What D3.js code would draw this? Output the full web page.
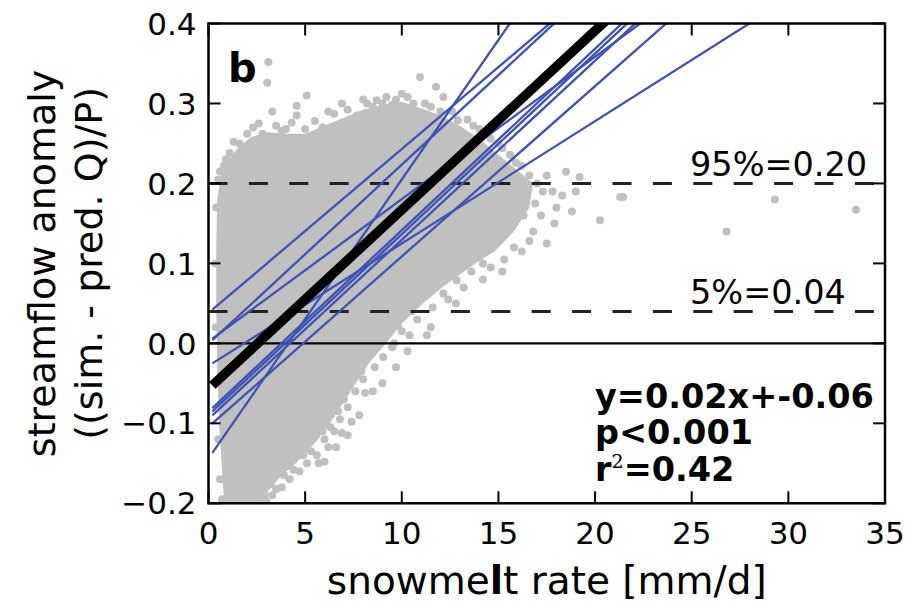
<!DOCTYPE html>
<html>
<head>
<meta charset="utf-8">
<script src="https://cdn.jsdelivr.net/npm/d3@7"></script>
<style>
  html, body { margin: 0; padding: 0; background: #fff; }
  svg { display: block; }
  text { font-family: "DejaVu Sans", sans-serif; }
</style>
</head>
<body>
<svg id="chart" width="906" height="603"></svg>
<script>
// ---------------- data ----------------
const xTicks = [0, 5, 10, 15, 20, 25, 30, 35];
const yTicks = [-0.2, -0.1, 0.0, 0.1, 0.2, 0.3, 0.4];
const xDomain = [0, 35];
const yDomain = [-0.2, 0.4];

// outline of the dense part of the scatter cloud (snowmelt, anomaly)
const cloudOutline = [
  [0.9, -0.23], [0.7, -0.16], [0.55, -0.1], [0.45, -0.03], [0.4, 0.05],
  [0.4, 0.12], [0.45, 0.18], [0.65, 0.21], [1.0, 0.228], [1.5, 0.244],
  [2.2, 0.258], [3.0, 0.264], [4.0, 0.262], [5.0, 0.262], [6.0, 0.272],
  [7.0, 0.282], [8.0, 0.292], [9.0, 0.298], [10.0, 0.302], [11.0, 0.294],
  [12.0, 0.285], [13.0, 0.272], [14.0, 0.256], [15.0, 0.236], [16.0, 0.216],
  [16.8, 0.2], [16.6, 0.17], [15.8, 0.14], [14.8, 0.115], [13.8, 0.1],
  [12.2, 0.072], [11.0, 0.048], [10.0, 0.025], [9.2, 0.0], [8.3, -0.025],
  [7.4, -0.058], [6.5, -0.092], [5.6, -0.122], [4.6, -0.148], [3.6, -0.17],
  [2.9, -0.19], [2.6, -0.23]
];

// individual points around the edge of the cloud
const scatterPoints = [
  [3.1, 0.352], [3.04, 0.326], [5.08, 0.31], [4.56, 0.297], [4.56, 0.285],
  [10.94, 0.333], [11.77, 0.321], [12.15, 0.308], [1.1, 0.238], [1.6, 0.25],
  [2.0, 0.262], [2.6, 0.275], [2.3, 0.27], [3.5, 0.272], [4.0, 0.268],
  [5.5, 0.278], [6.5, 0.287], [7.2, 0.292], [8.2, 0.3], [8.7, 0.304],
  [9.2, 0.308], [9.7, 0.305], [10.3, 0.308], [11.2, 0.3], [12.6, 0.29],
  [13.4, 0.28], [14.0, 0.268], [14.6, 0.256], [15.2, 0.244], [15.9, 0.226],
  [0.8, 0.222], [0.5, 0.205],
  [18.5, 0.2145], [19.2, 0.208], [20.25, 0.154], [21.3, 0.183], [21.45, 0.183],
  [26.8, 0.14], [29.3, 0.18], [33.5, 0.167], [17.5, 0.21], [17.8, 0.19],
  [18.0, 0.17], [17.2, 0.16], [18.3, 0.185], [16.8, 0.14], [17.5, 0.125],
  [16.2, 0.115], [15.3, 0.105],
  [14.2, 0.1], [13.6, 0.09], [12.84, 0.079], [12.15, 0.0625], [11.3, 0.01],
  [11.6, 0.045], [10.8, 0.03], [10.0, 0.015], [9.04, -0.017], [9.6, 0.0],
  [8.6, -0.03], [8.0, -0.045], [7.6, -0.06], [7.2, -0.08], [6.8, -0.095],
  [6.5, -0.11], [6.0, -0.12], [5.6, -0.14], [5.1, -0.15], [4.7, -0.16],
  [4.2, -0.17], [3.8, -0.18], [3.3, -0.19], [3.0, -0.198],
  [9.3, 0.035], [10.2, 0.05], [10.9, 0.062], [11.9, 0.085], [12.5, 0.095],
  [13.1, 0.11], [13.9, 0.118], [14.8, 0.128], [15.7, 0.15], [16.3, 0.16],
  [16.9, 0.175], [17.3, 0.19], [8.9, 0.012], [9.8, 0.022], [10.5, 0.04],
  [8.3, -0.01], [7.9, -0.035], [7.5, -0.045], [7.0, -0.07], [6.7, -0.085],
  [6.3, -0.105], [5.9, -0.11], [5.3, -0.135], [4.9, -0.14], [4.4, -0.158],
  [3.9, -0.165], [3.5, -0.182], [3.2, -0.176], [2.9, -0.19], [8.1, -0.062],
  [7.4, -0.098], [6.9, -0.112], [6.2, -0.13], [5.7, -0.15],
  [9.5, -0.005], [10.4, 0.01], [12.4, 0.055],
  [13.2, 0.07], [14.6, 0.095], [15.8, 0.12], [16.6, 0.128], [17.9, 0.15],
  [19.0, 0.19], [18.8, 0.165],
  [1.3, 0.252], [1.9, 0.245], [2.8, 0.262], [3.3, 0.29], [3.8, 0.266],
  [4.3, 0.276], [5.0, 0.268], [5.9, 0.27], [6.2, 0.29], [6.9, 0.3],
  [7.7, 0.285], [8.0, 0.305], [8.5, 0.296], [9.0, 0.3], [9.5, 0.298],
  [10.0, 0.312], [10.6, 0.3], [11.5, 0.296], [12.0, 0.29], [12.9, 0.279],
  [13.7, 0.272], [14.4, 0.262], [15.0, 0.25], [15.6, 0.236], [16.2, 0.222],
  [16.6, 0.21], [17.0, 0.2], [0.6, 0.215], [0.9, 0.23], [1.0, 0.21],
  [0.4, 0.17], [0.35, 0.1], [0.38, 0.02], [0.4, -0.05], [0.5, -0.12],
  [0.6, -0.17], [0.7, -0.195],
  [10.3, -0.01], [9.7, -0.03], [9.0, -0.05], [8.5, -0.06], [7.8, -0.09],
  [7.2, -0.115], [6.6, -0.13], [6.0, -0.148],
  [11.5, 0.02], [12.8, 0.05], [14.2, 0.08], [15.2, 0.09]
];

// per-basin regression lines (slope, intercept)
const basinSlopes     = [0.0205, 0.0349, 0.0224, 0.0178, 0.0227, 0.0226, 0.0224, 0.0213, 0.0153];
const basinIntercepts = [0.038, -0.144, -0.0005, 0.0024, -0.0855, -0.0895, -0.0945, -0.1043, -0.0281];
const lineXStart = 0.2;
const lineXEnd = 35;

// pooled regression
const pooledSlope = 0.0224;
const pooledIntercept = -0.057;

// percentile reference lines
const percentileValues = [0.20, 0.04];
const percentileLabels = ["95%=0.20", "5%=0.04"];

const panelLabel = "b";
const statsLines = ["y=0.02x+-0.06", "p<0.001", "r2=0.42"];

// ---------------- drawing ----------------
const svg = d3.select("#chart");
const L = 208.5, R = 885, T = 23.5, B = 503.3;

const x = d3.scaleLinear().domain(xDomain).range([L, R]);
const y = d3.scaleLinear().domain(yDomain).range([B, T]);

svg.append("defs").append("clipPath").attr("id", "plotclip")
  .append("rect").attr("x", L).attr("y", T).attr("width", R - L).attr("height", B - T);

const plot = svg.append("g").attr("clip-path", "url(#plotclip)");

const grey = "#c0c0c0";

// dense cloud
plot.append("path")
  .datum(cloudOutline)
  .attr("d", d3.line().x(d => x(d[0])).y(d => y(d[1])).curve(d3.curveLinearClosed))
  .attr("fill", grey);

// scattered points
plot.selectAll("circle.pt").data(scatterPoints).enter().append("circle")
  .attr("class", "pt")
  .attr("cx", d => x(d[0])).attr("cy", d => y(d[1])).attr("r", 4)
  .attr("fill", grey);

// zero line
plot.append("line")
  .attr("x1", x(xDomain[0])).attr("x2", x(xDomain[1]))
  .attr("y1", y(0)).attr("y2", y(0))
  .attr("stroke", "#000").attr("stroke-width", 2.2);

// dashed percentile lines
plot.selectAll("line.pct").data(percentileValues).enter().append("line")
  .attr("class", "pct")
  .attr("x1", x(xDomain[0])).attr("x2", x(xDomain[1]))
  .attr("y1", d => y(d)).attr("y2", d => y(d))
  .attr("stroke", "#222").attr("stroke-width", 3)
  .attr("stroke-dasharray", "19,21.4");

// basin lines
const basinData = basinSlopes.map((s, i) => ({ s, b: basinIntercepts[i] }));
plot.selectAll("line.basin").data(basinData).enter().append("line")
  .attr("class", "basin")
  .attr("x1", x(lineXStart)).attr("y1", d => y(d.b + d.s * lineXStart))
  .attr("x2", x(lineXEnd)).attr("y2", d => y(d.b + d.s * lineXEnd))
  .attr("stroke", "#3d52b4").attr("stroke-width", 2.3);

// pooled line
plot.append("line")
  .attr("x1", x(lineXStart)).attr("y1", y(pooledIntercept + pooledSlope * lineXStart))
  .attr("x2", x(lineXEnd)).attr("y2", y(pooledIntercept + pooledSlope * lineXEnd))
  .attr("stroke", "#000").attr("stroke-width", 9.5);

// frame
svg.append("rect").attr("x", L).attr("y", T).attr("width", R - L).attr("height", B - T)
  .attr("fill", "none").attr("stroke", "#000").attr("stroke-width", 2.5);

// ticks (inward, all four sides)
const tl = 12;
const tickG = svg.append("g").attr("stroke", "#000").attr("stroke-width", 2);
xTicks.forEach(v => {
  tickG.append("line").attr("x1", x(v)).attr("x2", x(v)).attr("y1", B).attr("y2", B - tl);
  tickG.append("line").attr("x1", x(v)).attr("x2", x(v)).attr("y1", T).attr("y2", T + tl);
});
yTicks.forEach(v => {
  tickG.append("line").attr("x1", L).attr("x2", L + tl).attr("y1", y(v)).attr("y2", y(v));
  tickG.append("line").attr("x1", R).attr("x2", R - tl).attr("y1", y(v)).attr("y2", y(v));
});

// tick labels
const fmtY = d3.format(".1f");
svg.selectAll("text.xt").data(xTicks).enter().append("text")
  .attr("class", "xt")
  .attr("x", d => x(d)).attr("y", 544)
  .attr("text-anchor", "middle").attr("font-size", 31).text(d => d);
svg.selectAll("text.yt").data(yTicks).enter().append("text")
  .attr("class", "yt")
  .attr("x", L - 12).attr("y", d => y(d)).attr("dy", "0.36em")
  .attr("text-anchor", "end").attr("font-size", 31).text(d => fmtY(d));

// axis labels
const xl = svg.append("text").attr("x", (L + R) / 2).attr("y", 594)
  .attr("text-anchor", "middle").attr("font-size", 39);
xl.append("tspan").text("snowme");
xl.append("tspan").attr("font-weight", "bold").text("l");
xl.append("tspan").text("t rate [mm/d]");

svg.append("text").attr("transform", `translate(55,${(T + B) / 2}) rotate(-90)`)
  .attr("text-anchor", "middle").attr("font-size", 38).text("streamflow anomaly");
svg.append("text").attr("transform", `translate(102,${(T + B) / 2}) rotate(-90)`)
  .attr("text-anchor", "middle").attr("font-size", 38).text("((sim. - pred. Q)/P)");

// panel label
svg.append("text").attr("x", 228).attr("y", 82)
  .attr("font-size", 40).attr("font-weight", "bold").text(panelLabel);

// percentile labels
svg.selectAll("text.pl").data(percentileLabels).enter().append("text")
  .attr("class", "pl")
  .attr("x", 690).attr("y", (d, i) => y(percentileValues[i]) - 7)
  .attr("font-size", 33.5).text(d => d);

// stats
const statsY = [408, 444, 481];
svg.append("text").attr("x", 595).attr("y", statsY[0])
  .attr("font-size", 33.5).attr("font-weight", "bold").text(statsLines[0]);
svg.append("text").attr("x", 595).attr("y", statsY[1])
  .attr("font-size", 33.5).attr("font-weight", "bold").text(statsLines[1]);
const r2 = svg.append("text").attr("x", 595).attr("y", statsY[2])
  .attr("font-size", 33.5).attr("font-weight", "bold");
r2.append("tspan").text(statsLines[2].slice(0, 1));
r2.append("tspan").attr("dy", -13).attr("font-size", 19).attr("font-weight", "normal")
  .attr("font-family", "DejaVu Serif, serif").text(statsLines[2].slice(1, 2));
r2.append("tspan").attr("dy", 13).text(statsLines[2].slice(2));
</script>
</body>
</html>
